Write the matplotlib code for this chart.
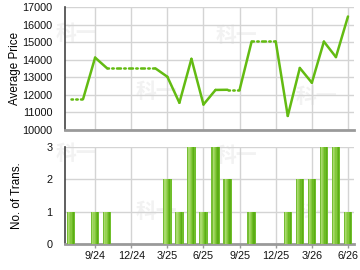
import numpy as np
import matplotlib
matplotlib.use("Agg")
import matplotlib.pyplot as plt

plt.rcParams['font.family'] = ['Liberation Sans', 'DejaVu Sans']

months = ["7/24", "8/24", "9/24", "10/24", "11/24", "12/24", "1/25", "2/25",
          "3/25", "4/25", "5/25", "6/25", "7/25", "8/25", "9/25", "10/25",
          "11/25", "12/25", "1/26", "2/26", "3/26", "4/26", "5/26", "6/26"]
# nan = no transaction that month (line carries last price, dotted)
prices = [11760, np.nan, 14120, 13510, np.nan, np.nan, np.nan, np.nan,
          13030, 11550, 14050, 11450, 12280, 12290, np.nan, 15040,
          np.nan, np.nan, 10800, 13530, 12690, 15030, 14150, 16460]
counts = [1, 0, 1, 1, 0, 0, 0, 0, 2, 1, 3, 1, 3, 2, 0, 1, 0, 0, 1, 2, 2, 3, 3, 1]
tick_labels = ["9/24", "12/24", "3/25", "6/25", "9/25", "12/25", "3/26", "6/26"]

line_col = "#63bb12"
grid_col = "#d4d4d4"
bar_strips = ["#76be34", "#a8db6c", "#98d156", "#84c83e", "#6cbb24", "#5cad16", "#70bf2c"]

x = np.arange(len(months))
tick_pos = [months.index(t) for t in tick_labels]
filled = []
last = np.nan
for p in prices:
    if not np.isnan(p):
        last = p
    filled.append(last)

fig = plt.figure(figsize=(3.6, 2.7), dpi=100)
ax1 = fig.add_axes([65 / 360, 1 - 130 / 270, 289 / 360, 123 / 270])
ax2 = fig.add_axes([65 / 360, 1 - 244 / 270, 289 / 360, 97 / 270])

# faint watermarks behind the plots
for (px, py) in [(76, 33), (156, 92), (236, 35), (316, 96), (76, 153), (156, 211), (236, 155), (316, 213)]:
    fig.text(px / 360, 1 - py / 270, "科一", fontsize=15, color="#f2f2f2", ha="center", va="center",
             family=["Noto Sans CJK SC", "DejaVu Sans"], fontweight="bold", zorder=-5)

for ax in (ax1, ax2):
    ax.set_facecolor("none")
    ax.set_xlim(-0.5, len(months) - 0.5)
    ax.set_xticks(tick_pos)
    ax.grid(True, color=grid_col, linewidth=1)
    ax.set_axisbelow(True)
    ax.spines['top'].set_visible(False)
    ax.spines['right'].set_visible(False)
    ax.spines['left'].set_color("#444444")
    ax.spines['left'].set_linewidth(1.2)
    ax.spines['bottom'].set_color("#9a9a9a")
    ax.spines['bottom'].set_linewidth(2)
    ax.tick_params(axis='y', length=0, pad=9, labelsize=7.8, colors="#111111")
    ax.tick_params(axis='x', length=3, width=1, color="#9a9a9a", pad=2, labelsize=7.8, labelcolor="#111111")

# price line: solid into months with data, dotted into empty months
for i in range(1, len(months)):
    ls = '-' if not np.isnan(prices[i]) else (0, (0.6, 1.3))
    ax1.plot([x[i - 1], x[i]], [filled[i - 1], filled[i]], color=line_col, linewidth=1.8,
             linestyle=ls, solid_capstyle='round', dash_capstyle='round')
ax1.set_ylim(10000, 17000)
ax1.set_yticks(range(10000, 17001, 1000))
ax1.set_xticklabels([])
ax1.tick_params(axis='x', length=0)
ax1.set_ylabel("Average Price", fontsize=8.4, labelpad=1)

# bars with a simple horizontal shading
bw = 0.7
n = len(bar_strips)
sw = bw / n
for k, c in enumerate(bar_strips):
    ax2.bar(x - bw / 2 + sw * (k + 0.5), counts, width=sw, color=c, linewidth=0, zorder=3)
ax2.set_ylim(0, 3)
ax2.set_yticks([0, 1, 2, 3])
ax2.set_xticklabels(tick_labels)
ax2.set_ylabel("No. of Trans.", fontsize=8.4, labelpad=17)

fig.savefig("out.png", dpi=100)
